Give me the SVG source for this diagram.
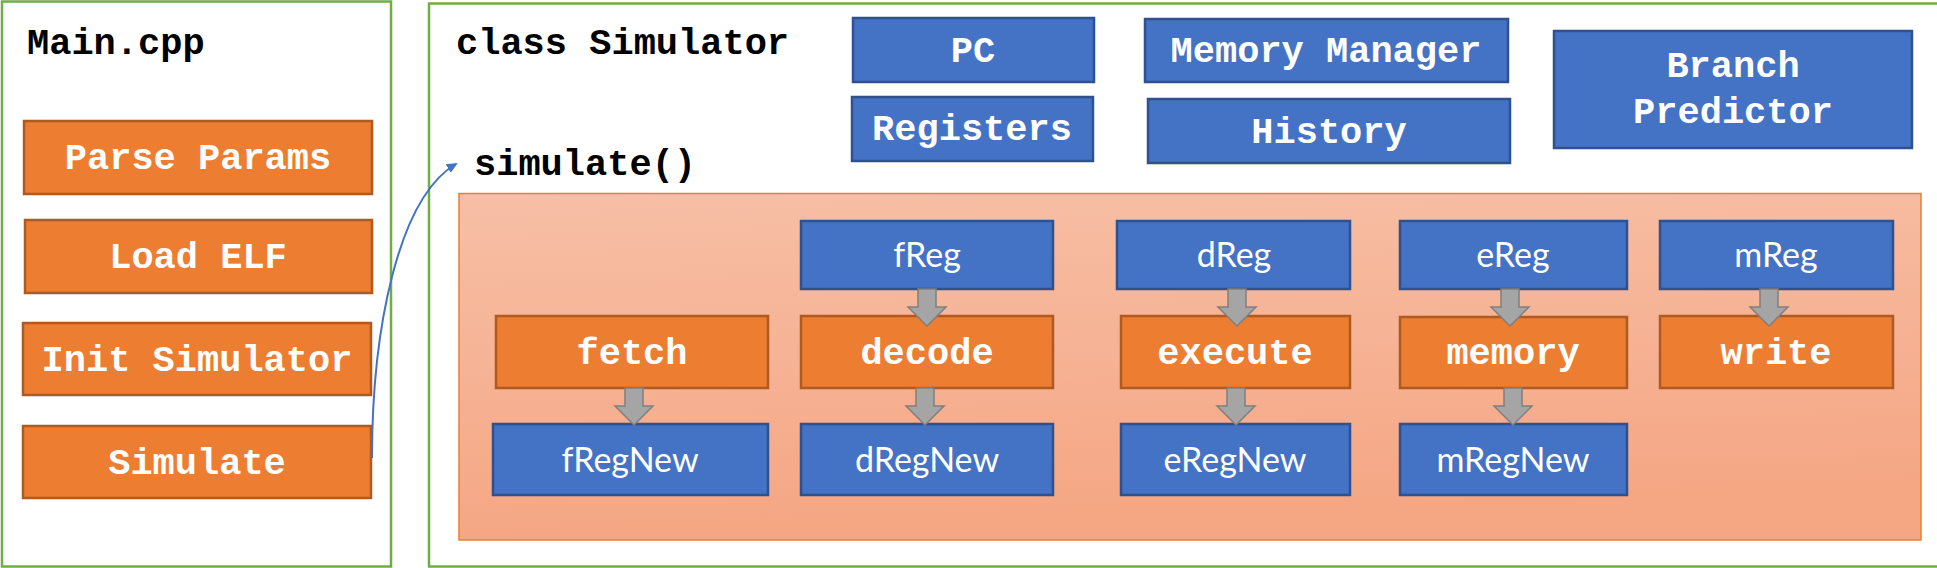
<svg xmlns="http://www.w3.org/2000/svg" width="1937" height="568" viewBox="0 0 1937 568">
<style>
.frame{fill:#FFFFFF;stroke:#70AD47;stroke-width:2.5}
.ob{fill:#ED7D31;stroke:#AE5A21;stroke-width:2.5}
.bb{fill:#4472C4;stroke:#2F528F;stroke-width:2.5}
.mono{font-family:"Liberation Mono","Courier New",monospace;font-weight:bold;font-size:37px}
.wt{fill:#FFFFFF;text-anchor:middle}
.bk{fill:#000000}
.sans{font-family:Lato,"Open Sans","Liberation Sans",sans-serif;font-size:34px;fill:#FFFFFF;text-anchor:middle}
.ga{fill:#A5A5A5;stroke:#7F7F7F;stroke-width:1.5}
</style>
<defs>
<linearGradient id="pipeGrad" x1="0" y1="0" x2="0.15" y2="1">
<stop offset="0" stop-color="#F7BFA6"/>
<stop offset="1" stop-color="#F5A683"/>
</linearGradient>
<path id="dArrow" d="M-9,0 H9 V18 H19 L0,37 L-19,18 H-9 Z"/>
<marker id="blueHead" markerWidth="12" markerHeight="12" refX="9" refY="5" orient="auto" markerUnits="userSpaceOnUse" viewBox="0 0 12 10">
<path d="M0,0 L11,5 L0,10 Z" fill="#4472C4"/>
</marker>
</defs>
<rect width="1937" height="568" fill="#FFFFFF"/>

<g id="main-cpp">
<rect class="frame" x="2" y="1.5" width="389" height="565"/>
<text class="mono bk" x="27" y="54">Main.cpp</text>
</g>
<g id="parse-params">
<rect class="ob" x="24" y="121" width="348" height="73"/>
<text class="mono wt" x="198" y="169">Parse Params</text>
</g>
<g id="load-elf">
<rect class="ob" x="25" y="220" width="347" height="73"/>
<text class="mono wt" x="198" y="268">Load ELF</text>
</g>
<g id="init-simulator">
<rect class="ob" x="23" y="323" width="348" height="72"/>
<text class="mono wt" x="197" y="371">Init Simulator</text>
</g>
<g id="simulate">
<rect class="ob" x="23" y="426" width="348" height="72"/>
<text class="mono wt" x="197" y="474">Simulate</text>
</g>

<g id="class-simulator">
<rect class="frame" x="429" y="3.5" width="1520" height="563"/>
<text class="mono bk" x="456" y="54">class Simulator</text>
<text class="mono bk" x="474" y="175">simulate()</text>
</g>
<g id="pc">
<rect class="bb" x="853" y="18" width="241" height="64"/>
<text class="mono wt" x="973" y="62">PC</text>
</g>
<g id="registers">
<rect class="bb" x="852" y="97" width="241" height="64"/>
<text class="mono wt" x="972" y="140">Registers</text>
</g>
<g id="memory-manager">
<rect class="bb" x="1145" y="19" width="363" height="63"/>
<text class="mono wt" x="1326" y="62">Memory Manager</text>
</g>
<g id="history">
<rect class="bb" x="1148" y="99" width="362" height="64"/>
<text class="mono wt" x="1329" y="143">History</text>
</g>
<g id="branch-predictor">
<rect class="bb" x="1554" y="31" width="358" height="117"/>
<text class="mono wt" x="1733" y="77">Branch</text>
<text class="mono wt" x="1733" y="123">Predictor</text>
</g>

<g id="pipeline">
<rect x="459" y="193.5" width="1462" height="346.5" fill="url(#pipeGrad)" stroke="#ED7D31" stroke-width="1.5"/>
</g>

<g id="freg"><rect class="bb" x="801" y="221" width="252" height="68"/><text class="sans" x="927" y="267">fReg</text></g>
<g id="dreg"><rect class="bb" x="1117" y="221" width="233" height="68"/><text class="sans" x="1234" y="267">dReg</text></g>
<g id="ereg"><rect class="bb" x="1400" y="221" width="227" height="68"/><text class="sans" x="1513" y="267">eReg</text></g>
<g id="mreg"><rect class="bb" x="1660" y="221" width="233" height="68"/><text class="sans" x="1776" y="267">mReg</text></g>

<g id="fetch"><rect class="ob" x="496" y="316" width="272" height="72"/><text class="mono wt" x="632" y="364">fetch</text></g>
<g id="decode"><rect class="ob" x="801" y="316" width="252" height="72"/><text class="mono wt" x="927" y="364">decode</text></g>
<g id="execute"><rect class="ob" x="1121" y="316" width="229" height="72"/><text class="mono wt" x="1235" y="364">execute</text></g>
<g id="memory"><rect class="ob" x="1400" y="317" width="227" height="71"/><text class="mono wt" x="1513" y="364">memory</text></g>
<g id="write"><rect class="ob" x="1660" y="316" width="233" height="72"/><text class="mono wt" x="1776" y="364">write</text></g>

<g id="fregnew"><rect class="bb" x="493" y="424" width="275" height="71"/><text class="sans" x="630" y="472">fRegNew</text></g>
<g id="dregnew"><rect class="bb" x="801" y="424" width="252" height="71"/><text class="sans" x="927" y="472">dRegNew</text></g>
<g id="eregnew"><rect class="bb" x="1121" y="424" width="229" height="71"/><text class="sans" x="1235" y="472">eRegNew</text></g>
<g id="mregnew"><rect class="bb" x="1400" y="424" width="227" height="71"/><text class="sans" x="1513" y="472">mRegNew</text></g>

<g id="connectors">
<use href="#dArrow" class="ga" x="927" y="289"/>
<use href="#dArrow" class="ga" x="1237" y="289"/>
<use href="#dArrow" class="ga" x="1510" y="289"/>
<use href="#dArrow" class="ga" x="1769" y="289"/>
<use href="#dArrow" class="ga" x="634" y="388"/>
<use href="#dArrow" class="ga" x="925" y="388"/>
<use href="#dArrow" class="ga" x="1236" y="388"/>
<use href="#dArrow" class="ga" x="1513" y="388"/>
<path d="M372,458 C372,330 398,198 456,164" fill="none" stroke="#4472C4" stroke-width="2" marker-end="url(#blueHead)"/>
</g>
</svg>
